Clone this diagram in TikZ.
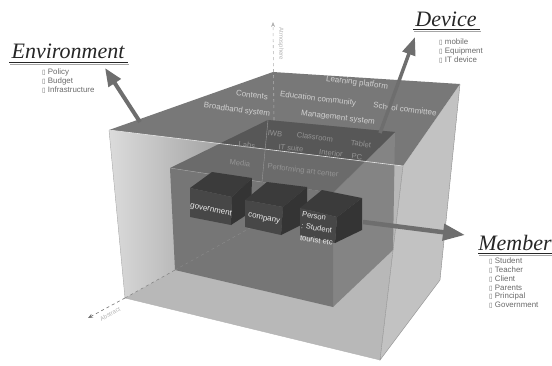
\documentclass[tikz,border=0pt]{standalone}
\usepackage{fontspec}
\setmainfont{Liberation Sans}
\newfontfamily\headfont{Liberation Serif}
\newfontfamily\symfont{DejaVu Sans}
\usetikzlibrary{arrows.meta}
\definecolor{topface}{HTML}{787878}
\definecolor{darkin}{HTML}{575757}
\definecolor{midin}{HTML}{6B6B6B}
\definecolor{infront}{HTML}{767676}
\definecolor{inright}{HTML}{848484}
\definecolor{rightface}{HTML}{C2C2C2}
\definecolor{arrowgray}{HTML}{6E6E6E}
\definecolor{cubetop}{HTML}{3B3B3B}
\definecolor{cubefront}{HTML}{474747}
\definecolor{cubeside}{HTML}{343434}
\definecolor{itemgray}{HTML}{6A6A6A}
\tikzset{
  toplabel/.style={text=black!18, font=\fontsize{8}{9}\selectfont, inner sep=0pt, rotate=-7},
  inlabel/.style={text=black!42, font=\fontsize{7.6}{9}\selectfont, inner sep=0pt, rotate=-7},
  cubelabel/.style={text=black!8, font=\fontsize{8}{9}\selectfont, inner sep=0pt, rotate=-12},
  personlabel/.style={text=black!8, font=\fontsize{7.6}{9}\selectfont, inner sep=0pt, rotate=-9, anchor=west},
  heading/.style={font=\headfont\itshape\fontsize{22}{24}\selectfont, inner sep=0pt, anchor=base, text=black!85},
  itemlist/.style={font=\fontsize{7.9}{8.7}\selectfont, text=itemgray, inner sep=0pt, anchor=north west, align=left},
  bigarrow/.style={draw=arrowgray, line width=#1},
  edgeline/.style={draw=black!45, line width=0.4pt},
  axislabel/.style={text=black!30, font=\fontsize{6}{7}\selectfont, inner sep=0pt},
}
\newcommand{\bx}{{\symfont\fontsize{6.5}{7}\selectfont ▯}}
\begin{document}
\begin{tikzpicture}[x=1pt,y=-1pt]
\useasboundingbox (0,0) rectangle (552,365);
% outer box corners
\coordinate (TL) at (109,130);
\coordinate (TB) at (273,72);
\coordinate (TR) at (460,84);
\coordinate (TF) at (403,166);
\coordinate (BL) at (125,298);
\coordinate (BB) at (270,217);
\coordinate (BR) at (440,280);
\coordinate (BF) at (380,360);
\coordinate (T1) at (220,143.6);
% inner box corners
\coordinate (iTL) at (170,168);
\coordinate (iTR) at (333,193);
\coordinate (iBR) at (333,307);
\coordinate (iBL) at (175,270);
\coordinate (iKL) at (268,120);
\coordinate (iKR) at (395,132);
\coordinate (iKB) at (393,250);
\coordinate (iKC) at (262,182);
% outer faces
\fill[black!28] (TL) -- (TF) -- (BF) -- (BL) -- cycle;
\shade[left color=black!14, right color=black!36] (TL) -- (T1) -- (iTL) -- (iBL) -- (BL) -- cycle;
\fill[rightface] (TF) -- (TR) -- (BR) -- (BF) -- cycle;
\fill[topface] (TL) -- (TB) -- (TR) -- (TF) -- cycle;
% inner box
\fill[inright] (iTR) -- (iKR) -- (iKB) -- (iBR) -- cycle;
\fill[infront] (iTL) -- (iTR) -- (iBR) -- (iBL) -- cycle;
\fill[midin] (iTL) -- (iKL) -- (iKR) -- (iTR) -- cycle;
\begin{scope}
  \clip (TL) -- (TB) -- (TR) -- (TF) -- cycle;
  \fill[darkin] (iTL) -- (iKL) -- (iKR) -- (iTR) -- cycle;
\end{scope}
% edges
\draw[edgeline] (TF) -- (BF) -- (BR) -- (TR);
\draw[edgeline, draw=black!30] (TL) -- (BL) -- (BF);
\draw[draw=black!10, line width=0.6pt] (TL) -- (TF);
\draw[draw=black!40, line width=0.4pt] (iKL) -- (iKC);
\draw[draw=black!35, line width=0.4pt] (iTL) -- (iKC);
\draw[draw=black!50, dashed, line width=0.5pt] (BL) -- (iBL);
\draw[draw=black!45, dashed, line width=0.4pt] (iBL) -- (250,228);
% axes
\coordinate (atmoTip) at (273,22);
\coordinate (absTip) at (88,318);
\draw[draw=black!30, dashed, line width=0.6pt, -{Stealth[length=5pt,width=4pt]}] (274,120) -- (atmoTip);
\node[axislabel, rotate=-90] (atmo) at (281,44) {Atmosphere};
\draw[draw=black!55, dashed, line width=0.6pt, -{Stealth[length=5pt,width=4pt]}] (BL) -- (absTip);
\node[axislabel, rotate=28] (abs) at (110,314) {Abstract};
% top labels
\node[toplabel] (lp) at (357,83) {Learning platform};
\node[toplabel] (ct) at (252,95) {Contents};
\node[toplabel] (ec) at (318,99) {Education community};
\node[toplabel] (sc) at (405,109) {School committee};
\node[toplabel] (bs) at (237,110) {Broadband system};
\node[toplabel] (ms) at (338,118) {Management system};
% inner labels
\node[inlabel] (iwb) at (275,134) {IWB};
\node[inlabel] (cls) at (315,137) {Classroom};
\node[inlabel] (tab) at (361,144) {Tablet};
\node[inlabel] (lab) at (248,145) {Labs.};
\node[inlabel] (its) at (291,148) {IT suite};
\node[inlabel] (int) at (331,153) {Interior};
\node[inlabel] (pc) at (357,157) {PC};
\node[inlabel] (med) at (240,163) {Media};
\node[inlabel] (pac) at (303,171) {Performing art center};
% cubes
\fill[cubetop] (190,188) -- (212,172) -- (252,178) -- (232,197) -- cycle;
\fill[cubefront] (190,188) -- (232,197) -- (231,225) -- (190,217) -- cycle;
\fill[cubeside] (232,197) -- (252,178) -- (251,212) -- (231,225) -- cycle;
\fill[cubetop] (245,200) -- (267,182) -- (307,187) -- (283,207) -- cycle;
\fill[cubefront] (245,200) -- (283,207) -- (281,235) -- (245,227) -- cycle;
\fill[cubeside] (283,207) -- (307,187) -- (307,222) -- (281,235) -- cycle;
\fill[cubetop] (300,208) -- (322,190) -- (362,198) -- (337,217) -- cycle;
\fill[cubefront] (300,208) -- (337,217) -- (335,243) -- (300,235) -- cycle;
\fill[cubeside] (337,217) -- (362,198) -- (362,230) -- (335,243) -- cycle;
\node[cubelabel] (gov) at (211,210) {government};
\node[cubelabel] (com) at (264,219) {company};
\node[personlabel] (per1) at (302,214) {Person};
\node[personlabel] (per2) at (301,225.5) {: Student};
\node[personlabel] (per3) at (300,237.5) {tourist etc};
% arrows
\coordinate (envS) at (140,122);
\coordinate (envT) at (105,68);
\coordinate (devS) at (380,133);
\coordinate (devT) at (415,37);
\coordinate (memS) at (363,222);
\coordinate (memT) at (465,235);
\draw[bigarrow=4pt, -{Triangle[length=18pt,width=14pt]}] (envS) -- (envT);
\draw[bigarrow=3.5pt, -{Triangle[length=18pt,width=13pt]}] (devS) -- (devT);
\draw[bigarrow=4.5pt, -{Triangle[length=22pt,width=16pt]}] (memS) -- (memT);
% headings
\node[heading] (env) at (68,58) {Environment};
\draw[line width=1.8pt, black!85] (9,62.5) -- (128,62.5);
\draw[line width=1pt, black!35] (10,64.5) -- (129,64.5);
\node[heading] (dev) at (446,26) {Device};
\draw[line width=1.8pt, black!85] (413,29.5) -- (480,29.5);
\draw[line width=1pt, black!35] (414,31.5) -- (481,31.5);
\node[heading] (mem) at (515,250) {Member};
\draw[line width=1.8pt, black!85] (478,253.5) -- (552,253.5);
\draw[line width=1pt, black!35] (479,255.5) -- (552,255.5);
% item lists
\node[itemlist] (envItems) at (42,69) {\bx\ Policy\\ \bx\ Budget\\ \bx\ Infrastructure};
\node[itemlist] (devItems) at (439,39) {\bx\ mobile\\ \bx\ Equipment\\ \bx\ IT device};
\node[itemlist] (memItems) at (489,258) {\bx\ Student\\ \bx\ Teacher\\ \bx\ Client\\ \bx\ Parents\\ \bx\ Principal\\ \bx\ Government};
\end{tikzpicture}
\end{document}
